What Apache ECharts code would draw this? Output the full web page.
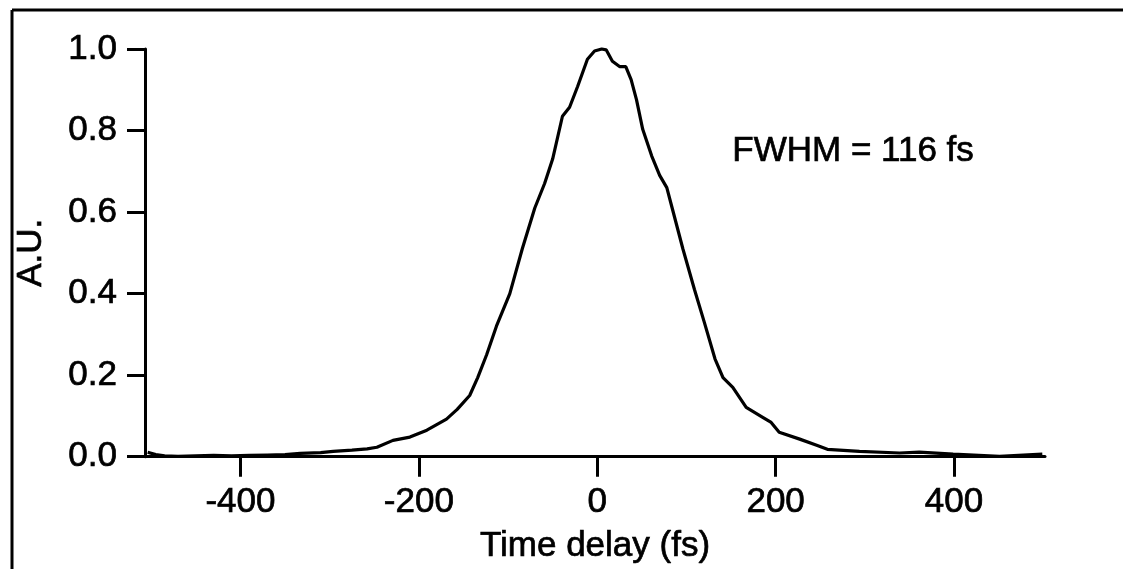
<!DOCTYPE html>
<html>
<head>
<meta charset="utf-8">
<style>
html,body{margin:0;padding:0;background:#fff;}
#c{width:1123px;height:569px;}
</style>
<script src="https://cdn.jsdelivr.net/npm/echarts@6/dist/echarts.min.js"></script>
</head>
<body>
<div id="c"></div>
<script>
// Data
var timeDelay = [-504,-495,-485,-470,-450,-430,-410,-390,-370,-350,-333,-310,-296,-275,-258,-247,-229,-210,-191,-169,-157,-143,-134,-124,-113,-98,-84,-70,-59,-50,-39,-31,-22,-11,-3,5,10,17,25,32,38,44,51,61,70,78,84,96,109,120,132,141,152,167,186,195,204,227,246,258,294,339,361,399,451,499];
var signal = [0.011,0.005,0.002,0.001,0.002,0.003,0.002,0.003,0.004,0.005,0.008,0.010,0.013,0.016,0.019,0.023,0.040,0.048,0.065,0.092,0.116,0.150,0.194,0.25,0.32,0.40,0.51,0.61,0.67,0.73,0.835,0.857,0.908,0.975,0.995,1.0,0.998,0.97,0.957,0.957,0.925,0.876,0.803,0.738,0.69,0.66,0.61,0.51,0.41,0.33,0.24,0.194,0.17,0.121,0.096,0.084,0.06,0.043,0.028,0.018,0.013,0.009,0.011,0.006,0.001,0.006];
var xTicks = [-400,-200,0,200,400];
var xTitle = 'Time delay (fs)';
var yTitle = 'A.U.';
var note = 'FWHM = 116 fs';

var pts = timeDelay.map(function(t,i){return [t, signal[i]];});
var FONT = '"Liberation Sans", Arial, Helvetica, sans-serif';
function txt(extra){
  var o = {fontFamily:FONT, fontSize:35, color:'#000', textBorderColor:'#000', textBorderWidth:0.7};
  for (var k in extra) o[k] = extra[k];
  return o;
}
var chart = echarts.init(document.getElementById('c'), null, {renderer:'canvas'});
chart.setOption({
  animation:false,
  backgroundColor:'#fff',
  grid:{left:145, right:78, top:49, bottom:109, containLabel:false},
  xAxis:{
    type:'value', min:-507, max:502,
    name:xTitle, nameLocation:'middle', nameGap:72,
    nameTextStyle:txt({}),
    axisLine:{show:true, onZero:false, lineStyle:{color:'#000', width:3}},
    axisTick:{show:true, length:20, inside:false, customValues:xTicks, lineStyle:{color:'#000', width:3}},
    axisLabel:txt({customValues:xTicks, margin:28}),
    splitLine:{show:false}
  },
  yAxis:{
    type:'value', min:0, max:1, interval:0.2,
    name:yTitle, nameLocation:'middle', nameGap:96, nameRotate:90,
    nameTextStyle:txt({}),
    axisLine:{show:true, onZero:false, lineStyle:{color:'#000', width:3}},
    axisTick:{show:true, length:18, lineStyle:{color:'#000', width:3}},
    axisLabel:txt({margin:28, formatter:function(v){return v.toFixed(1);}}),
    splitLine:{show:false}
  },
  graphic:[
    {type:'line', shape:{x1:12,y1:10,x2:12,y2:569}, style:{stroke:'#000', lineWidth:3}},
    {type:'line', shape:{x1:12,y1:10,x2:1123,y2:10}, style:{stroke:'#000', lineWidth:3}},
    {type:'text', left:732, top:133, style:{text:note, font:'35px ' + FONT, fill:'#000', stroke:'#000', lineWidth:0.7}}
  ],
  series:[{
    type:'line', data:pts, showSymbol:false, smooth:false,
    lineStyle:{color:'#000', width:3.2}, clip:false
  }]
});
</script>
</body>
</html>
